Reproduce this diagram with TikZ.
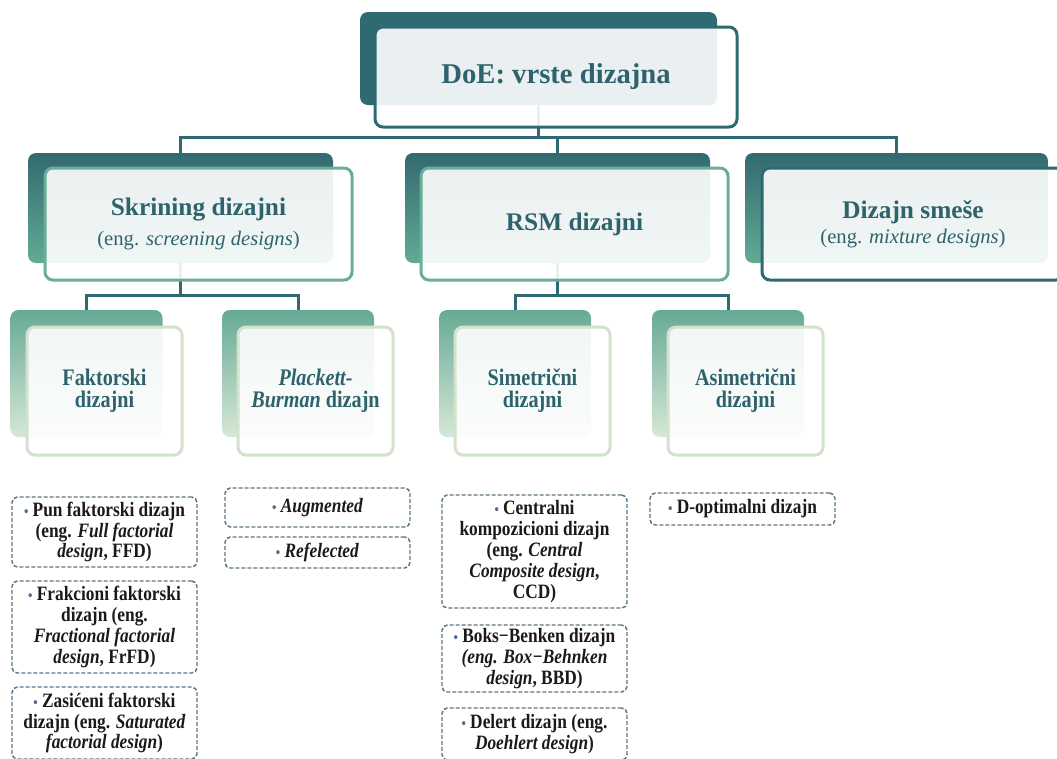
\documentclass[tikz,border=0pt]{standalone}
\usepackage{fontspec}
\setmainfont{Liberation Serif}
\newfontfamily\condfont[FakeStretch=0.85]{Liberation Serif}
\definecolor{dteal}{HTML}{2F6A73}
\definecolor{ttext}{HTML}{2E626C}
\definecolor{tgreen}{HTML}{6AAE99}
\definecolor{lgreen}{HTML}{D2E2CC}
\definecolor{ltop}{HTML}{33696F}
\definecolor{lbot}{HTML}{62AB95}
\definecolor{mtop}{HTML}{66AA95}
\definecolor{mbot}{HTML}{D6E8D6}
\definecolor{dashc}{HTML}{5B7585}
\definecolor{bulc}{HTML}{4B6B8F}
\definecolor{itemc}{HTML}{1A1A1A}
\newcommand{\bul}{{\color{bulc}\fontsize{11}{11}\selectfont\textbullet}\ }
\tikzset{
  conn/.style={draw=dteal, line width=2.25pt, line join=miter},
  backtop/.style={fill=dteal, rounded corners=6pt, inner sep=0pt},
  backtwo/.style={shade, top color=ltop, bottom color=lbot, rounded corners=6pt, inner sep=0pt,
                  minimum width=228.75pt, minimum height=82.5pt},
  backthree/.style={shade, top color=mtop, middle color=mtop!70!mbot, bottom color=mbot, rounded corners=6pt,
                  inner sep=0pt, minimum width=114pt, minimum height=95.25pt},
  fronttwo/.style={draw=tgreen, fill=white, fill opacity=0.9, text opacity=1, line width=2.25pt,
                  rounded corners=6pt, inner sep=0pt, minimum width=230.25pt, minimum height=84pt,
                  align=center, text=ttext, font=\fontsize{15.5}{22.5}\selectfont},
  frontthree/.style={draw=lgreen, fill=white, fill opacity=0.9, text opacity=1, line width=2.25pt,
                  rounded corners=6pt, inner sep=0pt, minimum width=116.25pt, minimum height=96pt,
                  align=center, text=ttext, font=\condfont\bfseries\fontsize{17.8}{16.5}\selectfont},
  item/.style={draw=dashc, dashed, dash pattern=on 3pt off 1.5pt, line width=1.1pt, rounded corners=4pt,
                  inner sep=0pt, minimum width=138.75pt, align=center, text=itemc,
                  font=\condfont\bfseries\fontsize{15.3}{15.6}\selectfont},
}
\begin{document}
\begin{tikzpicture}[x=0.75pt,y=-0.75pt]
\useasboundingbox (0,0) rectangle (1057,758);
\clip (0,0) rectangle (1057,758);
\fill[white] (0,0) rectangle (1057,758);

% back rectangles
\node[backtop, minimum width=267.75pt, minimum height=69.75pt] (topback) at (538.5,58.5) {};
\node[backtwo] (skback) at (180.5,208) {};
\node[backtwo] (rsmback) at (557.5,208) {};
\node[backtwo, minimum width=227.25pt] (smback) at (896.5,208) {};
\node[backthree] (fakback) at (86.5,373.5) {};
\node[backthree] (pbback) at (298,373.5) {};
\node[backthree] (simback) at (515,373.5) {};
\node[backthree] (asimback) at (728,373.5) {};

% connectors
\coordinate (j1) at (538.5,137);
\draw[conn] (topback.south) -- (j1);
\draw[conn] (skback.north) |- (j1) -| (smback.north);
\draw[conn] (rsmback.north) -- (rsmback.north |- j1);
\coordinate (j2) at (180.5,295);
\draw[conn] (skback.south) -- (j2);
\draw[conn] (fakback.north) |- (j2) -| (pbback.north);
\coordinate (j3) at (557.5,295);
\draw[conn] (rsmback.south) -- (j3);
\draw[conn] (simback.north) |- (j3) -| (asimback.north);

% front boxes
\node[draw=dteal, fill=white, fill opacity=0.9, text opacity=1, line width=2.25pt, rounded corners=6pt,
      inner sep=0pt, minimum width=271.5pt, minimum height=75pt, text=ttext,
      font=\bfseries\fontsize{21.5}{26}\selectfont] (top) at (556,77) {DoE: vrste dizajna};
\node[fronttwo] (sk) at (198.5,224)
  {{\bfseries\fontsize{19}{22.5}\selectfont Skrining dizajni}\\(eng. \textit{screening designs})};
\node[fronttwo] (rsm) at (574.5,224) {{\bfseries\fontsize{19}{22.5}\selectfont RSM dizajni}};
\node[fronttwo, draw=dteal, minimum width=226.5pt, font=\fontsize{15.5}{19}\selectfont] (sm) at (913,224)
  {{\bfseries\fontsize{19}{19}\selectfont Dizajn smeše}\\(eng. \textit{mixture designs})};
\node[frontthree] (fak) at (104.5,391) {Faktorski\\dizajni};
\node[frontthree] (pb) at (315.5,391) {\textit{Plackett-}\\\textit{Burman} dizajn};
\node[frontthree] (sim) at (532.5,391) {Simetrični\\dizajni};
\node[frontthree] (asim) at (745.5,391) {Asimetrični\\dizajni};

% items
\node[item, minimum height=52.5pt] (f1) at (104.5,532)
  {\bul Pun faktorski dizajn\\(eng. \textit{Full factorial}\\\textit{design}, FFD)};
\node[item, minimum height=69pt] (f2) at (104.5,627)
  {\bul Frakcioni faktorski\\dizajn (eng.\\\textit{Fractional factorial}\\\textit{design}, FrFD)};
\node[item, minimum height=54pt] (f3) at (104.5,723)
  {\bul Zasićeni faktorski\\dizajn (eng. \textit{Saturated}\\\textit{factorial design})};
\node[item, minimum height=29.25pt] (p1) at (317.5,507.5) {\bul\textit{Augmented}};
\node[item, minimum height=23.25pt] (p2) at (317.5,552.5) {\bul\textit{Refelected}};
\node[item, minimum height=84.75pt] (r1) at (534.5,551.5)
  {\bul Centralni\\kompozicioni dizajn\\(eng. \textit{Central}\\\textit{Composite design},\\CCD)};
\node[item, minimum height=50.25pt] (r2) at (534.5,658.5)
  {\bul Boks−Benken dizajn\\\textit{(eng. Box−Behnken}\\\textit{design}, BBD)};
\node[item, minimum height=39pt] (r3) at (534.5,734)
  {\bul Delert dizajn (eng.\\\textit{Doehlert design})};
\node[item, minimum height=24pt] (a1) at (742.5,509) {\bul D-optimalni dizajn};
\end{tikzpicture}
\end{document}
